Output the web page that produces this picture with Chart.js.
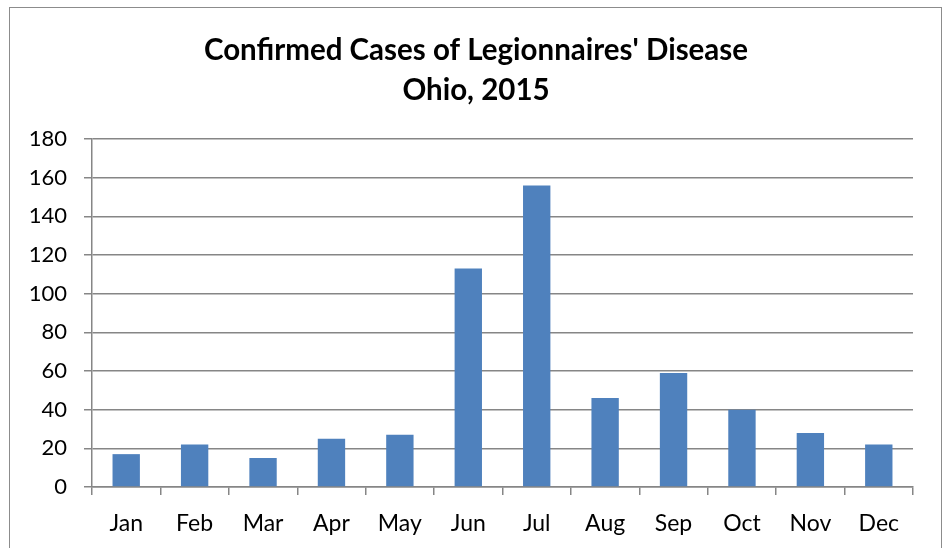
<!DOCTYPE html>
<html>
<head>
<meta charset="utf-8">
<script src="https://cdn.jsdelivr.net/npm/chart.js@4/dist/chart.umd.min.js"></script>
<style>
  html, body { margin: 0; padding: 0; background: #fff; overflow: hidden; }
  #wrap { position: relative; width: 943px; height: 548px; }
  canvas { position: absolute; left: 0; top: 0; }
</style>
</head>
<body>
<div id="wrap"><canvas id="c" width="943" height="548"></canvas></div>
<script>
const titleLines = ["Confirmed Cases of Legionnaires' Disease", "Ohio, 2015"];
const months = ["Jan", "Feb", "Mar", "Apr", "May", "Jun", "Jul", "Aug", "Sep", "Oct", "Nov", "Dec"];
const cases = [17, 22, 15, 25, 27, 113, 156, 46, 59, 40, 28, 22];
const yMin = 0, yMax = 180, yStep = 20;

const GRID = '#868686';

const frame = {
  id: 'frame',
  beforeDraw(chart) {
    const ctx = chart.ctx;
    ctx.save();
    ctx.fillStyle = '#fff';
    ctx.fillRect(0, 0, chart.width, chart.height);
    ctx.strokeStyle = '#8c8c8c';
    ctx.lineWidth = 1;
    ctx.strokeRect(9.5, 7.5, 932, 600);
    ctx.restore();
  }
};

new Chart(document.getElementById('c'), {
  type: 'bar',
  data: {
    labels: months,
    datasets: [{
      data: cases,
      backgroundColor: '#4F81BD',
      borderWidth: 0,
      barPercentage: 0.4,
      categoryPercentage: 1.0,
      yAxisID: 'y'
    }]
  },
  plugins: [frame],
  options: {
    responsive: false,
    animation: false,
    events: [],
    layout: { padding: { left: 9, right: 0, top: 0, bottom: 0 } },
    plugins: {
      legend: { display: false },
      tooltip: { enabled: false },
      title: {
        display: true,
        text: titleLines,
        color: '#000',
        font: { family: 'Lato', size: 29.5, weight: 'bold', lineHeight: 1.34 },
        padding: { top: 31, bottom: 29 }
      }
    },
    scales: {
      x: {
        offset: true,
        grid: {
          display: true,
          drawOnChartArea: false,
          drawTicks: true,
          tickLength: 8,
          color: GRID,
          lineWidth: 1.5,
          offset: true
        },
        border: { display: true, color: GRID, width: 1.5 },
        ticks: {
          color: '#000',
          font: { family: 'Lato', size: 23 },
          padding: 15,
          maxRotation: 0,
          autoSkip: false
        },
        afterFit(scale) { scale.height = 61; }
      },
      y: {
        min: yMin,
        max: yMax,
        grid: {
          color: GRID,
          lineWidth: 1.5,
          drawTicks: true,
          tickLength: 8
        },
        border: { display: true, color: GRID, width: 1.5 },
        ticks: {
          stepSize: yStep,
          color: '#000',
          font: { family: 'Lato', size: 22 },
          padding: 17
        },
        afterFit(scale) { scale.width = 83; }
      },
      spacer: {
        type: 'linear',
        position: 'right',
        display: true,
        grid: { display: false, drawTicks: false },
        border: { display: false },
        ticks: { display: false },
        afterFit(scale) { scale.width = 30; }
      }
    }
  }
});
</script>
</body>
</html>
